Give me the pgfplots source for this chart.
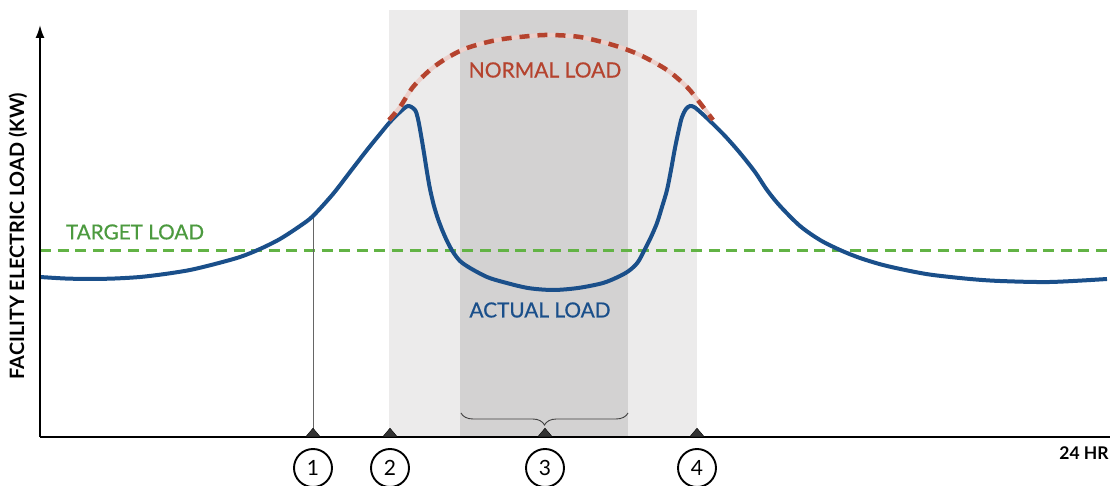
\documentclass[border=0pt]{standalone}
\usepackage{pgfplots}
\pgfplotsset{compat=1.18}
\usepackage{fontspec}
\setmainfont{Lato}
\newfontfamily\labelfont[FakeBold=0.6]{Lato}
\usetikzlibrary{arrows.meta,decorations.pathreplacing}
\definecolor{loadblue}{HTML}{1A4F8A}
\definecolor{loadred}{HTML}{B5432E}
\definecolor{tgtgreen}{HTML}{62B345}
\definecolor{tgttext}{HTML}{4C9A3F}
\definecolor{bandlight}{HTML}{ECEBEB}
\definecolor{banddark}{HTML}{D3D2D2}
\tikzset{numcirc/.style={draw, circle, line width=1.9pt, minimum size=38pt, inner sep=0pt, font=\fontsize{21}{21}\selectfont}}
\begin{document}
\begin{tikzpicture}
\begin{axis}[
  scale only axis, width=1070pt, height=412pt,
  xmin=40, xmax=1110, ymin=0, ymax=412,
  axis lines*=left, ticks=none, clip=false, axis on top,
  axis line style={line width=1.8pt, black},
  x axis line style={-},
  y axis line style={-{Latex[length=13pt,width=9pt]}},
]
% shaded periods
\addplot[draw=none, fill=bandlight] coordinates {(389,0) (389,427) (697,427) (697,0)} -- cycle;
\addplot[draw=none, fill=banddark] coordinates {(460,0) (460,427) (628,427) (628,0)} -- cycle;
% target load
\addplot[tgtgreen, line width=3pt, dash pattern=on 11pt off 6.6pt] coordinates {(40,186) (1110,186)};
% vertical marker line
\addplot[gray!80!black, line width=0.8pt] coordinates {(313,0) (313,221)};
% actual load
\addplot[loadblue, line width=4pt, smooth] coordinates {
(40,160) (65,158.5) (90,158) (115,158.5) (140,160) (165,163) (190,167) (215,173)
(240,180) (260,188) (280,198) (300,211) (313,221) (333,243) (350,265) (367,287)
(380,303) (390,315) (400,325) (408,331) (415,327) (418,318) (421,302) (424,284)
(427,265) (430,248) (434,231) (438,218) (443,205) (448,194) (453,185) (460,176)
(470,169) (487,160) (503,155) (528,149) (553,147) (578,149) (603,154) (620,161)
(630,167) (638,175) (645,188) (651,200) (657,214) (662,230) (667,247) (671,267)
(675,289) (679,308) (682,320) (686,328) (690,331) (694,330) (698,327) (710,316)
(725,301) (740,284) (755,265) (767,247) (780,231) (800,211) (820,197) (840,187)
(860,179) (883,172) (910,166) (933,162) (970,158) (1000,156) (1050,155) (1107,158)};
% normal load
\addplot[loadred!25, line width=4.2pt, smooth] coordinates {
(389,317) (400,330) (413,350) (430,367) (447,379) (467,389) (497,397) (530,401)
(550,402) (580,400) (613,392) (640,382) (667,367) (687,350) (700,334) (713,317)};
\addplot[loadred, line width=4.5pt, smooth, dash pattern=on 10pt off 8pt] coordinates {
(389,317) (400,330) (413,350) (430,367) (447,379) (467,389) (497,397) (530,401)
(550,402) (580,400) (613,392) (640,382) (667,367) (687,350) (700,334) (713,317)};
% triangles
\addplot[only marks, mark=triangle*, mark size=8.5pt, mark options={yscale=0.68, fill=black!80, draw=none}]
  coordinates {(313,3) (390,3) (545,3) (697,3)};
% brace
\draw[decorate, decoration={brace, amplitude=12pt, mirror}, black!75, line width=0.9pt]
  (axis cs:461,24) -- (axis cs:628,24);
% labels
\node[text=tgttext, font=\labelfont\fontsize{20.7}{22}\selectfont] at (axis cs:135,205) {TARGET LOAD};
\node[text=loadred, font=\labelfont\fontsize{21}{22}\selectfont] at (axis cs:545,367) {NORMAL LOAD};
\node[text=loadblue, font=\labelfont\fontsize{20.8}{22}\selectfont] at (axis cs:540,127) {ACTUAL LOAD};
\node[rotate=90, font=\bfseries\fontsize{19.8}{22}\selectfont] at (axis cs:18,201) {FACILITY ELECTRIC LOAD (KW)};
\node[font=\bfseries\fontsize{17.5}{20}\selectfont] at (axis cs:1084,-16) {24 HR};
\node[numcirc] at (axis cs:313,-31) {1};
\node[numcirc] at (axis cs:390,-31) {2};
\node[numcirc] at (axis cs:545,-31) {3};
\node[numcirc] at (axis cs:697,-31) {4};
\coordinate (bbl) at (axis cs:0,-49);
\coordinate (btr) at (axis cs:1112,437);
\end{axis}
\pgfresetboundingbox
\path[use as bounding box] (bbl) rectangle (btr);
\end{tikzpicture}
\end{document}
